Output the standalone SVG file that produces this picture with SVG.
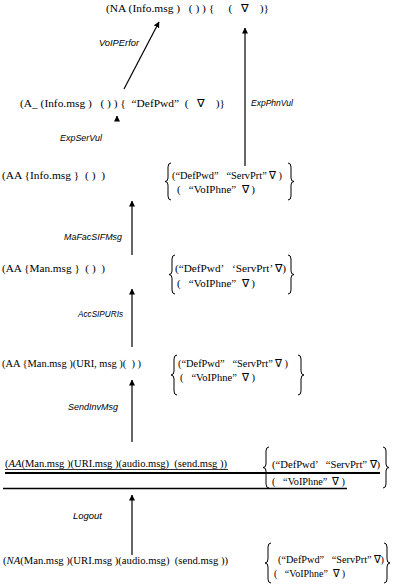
<svg xmlns="http://www.w3.org/2000/svg" width="402" height="586" viewBox="0 0 402 586">
<style>
text{white-space:pre;fill:#000}
.t{font-family:"Liberation Serif",serif;font-size:11px}
.l{font-family:"Liberation Sans",sans-serif;font-size:9px;font-style:italic}
.c{stroke:#000;stroke-width:1.2;fill:none}
.b{stroke:#000;stroke-width:1;fill:none}
</style>
<defs>
<marker id="ah" markerWidth="6" markerHeight="7" refX="5.5" refY="3" orient="auto" markerUnits="userSpaceOnUse"><path d="M0,0 L6,3 L0,6 z" fill="#000"/></marker>
</defs>
<rect width="402" height="586" fill="#fff"/>
<g id="connectors">
<line class="c" x1="124" y1="89" x2="159" y2="22" marker-end="url(#ah)"/>
<line class="c" x1="245" y1="166" x2="245" y2="28" marker-end="url(#ah)"/>
<line class="c" x1="117" y1="121" x2="117" y2="116" marker-end="url(#ah)"/>
<line class="c" x1="132" y1="255" x2="132" y2="201" marker-end="url(#ah)"/>
<line class="c" x1="132" y1="347" x2="132" y2="289" marker-end="url(#ah)"/>
<line class="c" x1="132" y1="442" x2="132" y2="380" marker-end="url(#ah)"/>
<line class="c" x1="132" y1="555" x2="132" y2="495" marker-end="url(#ah)"/>
<text class="l" x="99" y="46" textLength="40" lengthAdjust="spacingAndGlyphs">VoIPErfor</text>
<text class="l" x="251" y="106" textLength="42" lengthAdjust="spacingAndGlyphs">ExpPhnVul</text>
<text class="l" x="60" y="141" textLength="42" lengthAdjust="spacingAndGlyphs">ExpSerVul</text>
<text class="l" x="64" y="240" textLength="58" lengthAdjust="spacingAndGlyphs">MaFacSIFMsg</text>
<text class="l" x="78" y="317" textLength="45" lengthAdjust="spacingAndGlyphs">AccSIPURIs</text>
<text class="l" x="68" y="410" textLength="50" lengthAdjust="spacingAndGlyphs">SendInvMsg</text>
<text class="l" x="73" y="519" textLength="29" lengthAdjust="spacingAndGlyphs">Logout</text>
</g>
<g id="n1">
<text class="t" x="106" y="12" textLength="163" lengthAdjust="spacingAndGlyphs">(NA (Info.msg )   ( ) ) {     (   ∇    )}</text>
</g>
<g id="n2">
<text class="t" x="20" y="107" textLength="205" lengthAdjust="spacingAndGlyphs">(A_ (Info.msg )   ( ) ) {  “DefPwd”  (   ∇    )}</text>
</g>
<g id="n3">
<text class="t" x="2" y="179" textLength="103" lengthAdjust="spacingAndGlyphs">(AA {Info.msg }  ( )  )</text>
<path class="b" d="M171,163 Q168,163 168,167 L168,178 Q168,181.5 165,181.5 Q168,181.5 168,185 L168,196 Q168,200 171,200"/>
<text class="t" x="172" y="179" textLength="110" lengthAdjust="spacingAndGlyphs">(“DefPwd”   “ServPrt” ∇ )</text>
<text class="t" x="177" y="193" textLength="78" lengthAdjust="spacingAndGlyphs">(   “VoIPhne”  ∇ )</text>
<path class="b" d="M288,163 Q291,163 291,167 L291,178 Q291,181.5 294,181.5 Q291,181.5 291,185 L291,196 Q291,200 288,200"/>
</g>
<g id="n4">
<text class="t" x="2" y="272" textLength="103" lengthAdjust="spacingAndGlyphs">(AA {Man.msg }  ( )  )</text>
<path class="b" d="M175,255 Q172,255 172,259 L172,271 Q172,274.5 169,274.5 Q172,274.5 172,278 L172,290 Q172,294 175,294"/>
<text class="t" x="175" y="272" textLength="111" lengthAdjust="spacingAndGlyphs">(“DefPwd’   ‘ServPrt’ ∇)</text>
<text class="t" x="177" y="287" textLength="78" lengthAdjust="spacingAndGlyphs">(   “VoIPhne”  ∇ )</text>
<path class="b" d="M288,255 Q291,255 291,259 L291,271 Q291,274.5 294,274.5 Q291,274.5 291,278 L291,290 Q291,294 288,294"/>
</g>
<g id="n5">
<text class="t" x="2" y="367" textLength="139" lengthAdjust="spacingAndGlyphs">(AA {Man.msg )(URI, msg )(  ) )</text>
<path class="b" d="M177,355 Q174,355 174,359 L174,371 Q174,375 171,375 Q174,375 174,379 L174,391 Q174,395 177,395"/>
<text class="t" x="178" y="367" textLength="110" lengthAdjust="spacingAndGlyphs">(“DefPwd”   “ServPrt” ∇ )</text>
<text class="t" x="180" y="381" textLength="75" lengthAdjust="spacingAndGlyphs">(   “VoIPhne”  ∇ )</text>
<path class="b" d="M298,355 Q301,355 301,359 L301,371 Q301,375 304,375 Q301,375 301,379 L301,391 Q301,395 298,395"/>
</g>
<g id="n6">
<text class="t" x="5" y="467" textLength="222" lengthAdjust="spacingAndGlyphs">(<tspan font-style="italic">AA</tspan>(Man.msg )(URI.msg )(audio.msg)  (send.msg ))</text>
<line x1="5" y1="469.5" x2="228" y2="469.5" stroke="#000" stroke-width="0.8"/>
<line x1="5" y1="473" x2="380" y2="473" stroke="#000" stroke-width="2"/>
<line x1="3" y1="488.5" x2="347" y2="488.5" stroke="#000" stroke-width="1.4"/>
<path class="b" d="M269,447 Q266,447 266,451 L266,464 Q266,467.5 263,467.5 Q266,467.5 266,471 L266,484 Q266,488 269,488"/>
<text class="t" x="272" y="468" textLength="108" lengthAdjust="spacingAndGlyphs">(“DefPwd’   “ServPrt” ∇)</text>
<text class="t" x="272" y="485" textLength="73" lengthAdjust="spacingAndGlyphs">(   “VoIPhne”  ∇ )</text>
<path class="b" d="M383,447 Q386,447 386,451 L386,464 Q386,467.5 389,467.5 Q386,467.5 386,471 L386,484 Q386,488 383,488"/>
</g>
<g id="n7">
<text class="t" x="3" y="564" textLength="225" lengthAdjust="spacingAndGlyphs">(<tspan font-style="italic">NA</tspan>(Man.msg )(URI.msg )(audio.msg)  (send.msg ))</text>
<path class="b" d="M271,543 Q268,543 268,547 L268,559 Q268,563 265,563 Q268,563 268,567 L268,579 Q268,583 271,583"/>
<text class="t" x="278" y="563" textLength="106" lengthAdjust="spacingAndGlyphs">(“DefPwd”   “ServPrt” ∇)</text>
<text class="t" x="274" y="577" textLength="71" lengthAdjust="spacingAndGlyphs">(   “VoIPhne”  ∇ )</text>
<path class="b" d="M384,543 Q387,543 387,547 L387,559 Q387,563 390,563 Q387,563 387,567 L387,579 Q387,583 384,583"/>
</g>
</svg>
